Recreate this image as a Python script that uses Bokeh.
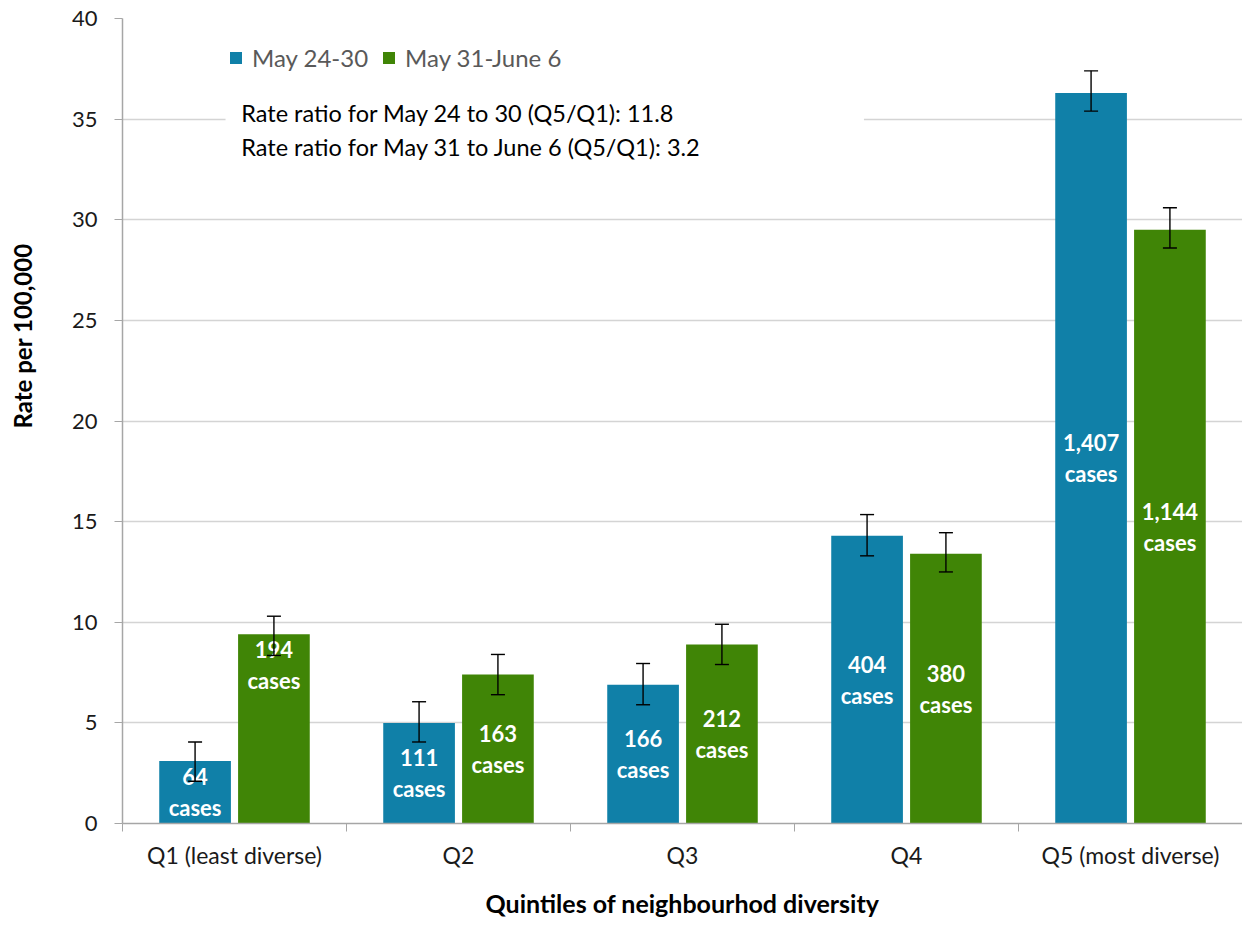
from bokeh.plotting import figure
from bokeh.models import (Range1d, FixedTicker, ColumnDataSource, Whisker, TeeHead,
                          Legend, LegendItem, BoxAnnotation, Label, Title, LinearAxis)
from bokeh.core.properties import value
from bokeh.embed import file_html
from bokeh.resources import INLINE

# ---- data ----
categories = ["Q1 (least diverse)", "Q2", "Q3", "Q4", "Q5 (most diverse)"]
series_names = ["May 24-30", "May 31-June 6"]
rate_may24 = [3.1, 5.0, 6.9, 14.3, 36.3]
rate_may31 = [9.4, 7.4, 8.9, 13.4, 29.5]
low_may24 = [2.1, 4.05, 5.9, 13.3, 35.4]
high_may24 = [4.05, 6.05, 7.95, 15.35, 37.4]
low_may31 = [8.35, 6.4, 7.9, 12.5, 28.6]
high_may31 = [10.3, 8.4, 9.9, 14.45, 30.6]
cases_may24 = ["64", "111", "166", "404", "1,407"]
cases_may31 = ["194", "163", "212", "380", "1,144"]
y_ticks = [0, 5, 10, 15, 20, 25, 30, 35, 40]
ratio_lines = ["Rate ratio for May 24 to 30 (Q5/Q1): 11.8",
               "Rate ratio for May 31 to June 6 (Q5/Q1): 3.2"]
y_title = "Rate per 100,000"
x_title = "Quintiles of neighbourhod diversity"

BLUE = "#1080A8"
GREEN = "#408506"
FONT = "Lato"
AXIS = "#A6A6A6"

n = len(categories)
centers = [i + 0.5 for i in range(n)]
off = 0.176
bw = 0.32

p = figure(width=1242, height=920, output_backend="svg", toolbar_location=None,
           x_range=Range1d(0, n), y_range=Range1d(0, 40),
           min_border_left=122, min_border_right=0, min_border_top=18, min_border_bottom=95)
p.outline_line_color = None

src_b = ColumnDataSource(dict(x=[c - off for c in centers], top=rate_may24,
                              lo=low_may24, hi=high_may24,
                              lab=[c + "\ncases" for c in cases_may24],
                              ly=[v / 2 for v in rate_may24]))
src_g = ColumnDataSource(dict(x=[c + off for c in centers], top=rate_may31,
                              lo=low_may31, hi=high_may31,
                              lab=[c + "\ncases" for c in cases_may31],
                              ly=[v / 2 for v in rate_may31]))

rb = p.vbar(x="x", top="top", width=bw, source=src_b, fill_color=BLUE, line_color=None)
rg = p.vbar(x="x", top="top", width=bw, source=src_g, fill_color=GREEN, line_color=None)

# value labels inside the bars (centred); the first green one sits at the top end
lab_kw = dict(text_color="white", text_font=value(FONT), text_font_style="bold",
              text_font_size="22px", text_align="center", text_line_height=1.15)
src_bl = ColumnDataSource(dict(x=src_b.data["x"], y=src_b.data["ly"], t=src_b.data["lab"]))
p.text(x="x", y="y", text="t", source=src_bl, text_baseline="middle", **lab_kw)
gx = src_g.data["x"]
src_gl = ColumnDataSource(dict(x=gx[1:], y=src_g.data["ly"][1:], t=src_g.data["lab"][1:]))
p.text(x="x", y="y", text="t", source=src_gl, text_baseline="middle", **lab_kw)
src_gl0 = ColumnDataSource(dict(x=gx[:1], y=rate_may31[:1], t=src_g.data["lab"][:1]))
p.text(x="x", y="y", text="t", source=src_gl0, text_baseline="top", y_offset=2, **lab_kw)

for s in (src_b, src_g):
    w = Whisker(base="x", lower="lo", upper="hi", source=s, line_color="black", line_width=1.4,
                upper_head=TeeHead(size=14, line_color="black", line_width=1.4),
                lower_head=TeeHead(size=14, line_color="black", line_width=1.4),
                level="overlay")
    p.add_layout(w)

# axes
p.yaxis.ticker = FixedTicker(ticks=y_ticks)
p.yaxis.axis_line_color = AXIS
p.yaxis.axis_line_width = 1.5
p.yaxis.major_tick_line_color = AXIS
p.yaxis.major_tick_out = 8
p.yaxis.major_tick_in = 0
p.yaxis.minor_tick_line_color = None
p.yaxis.major_label_text_font = FONT
p.yaxis.major_label_text_font_size = "22px"
p.yaxis.major_label_text_color = "#1a1a1a"
p.yaxis.major_label_standoff = 17

p.xaxis.ticker = FixedTicker(ticks=centers, minor_ticks=list(range(n + 1)))
p.xaxis.major_label_overrides = {c: lab for c, lab in zip(centers, categories)}
p.xaxis.axis_line_color = AXIS
p.xaxis.axis_line_width = 1.5
p.xaxis.major_tick_line_color = None
p.xaxis.major_tick_out = 0
p.xaxis.major_tick_in = 0
p.xaxis.minor_tick_line_color = AXIS
p.xaxis.minor_tick_out = 8
p.xaxis.minor_tick_in = 0
p.xaxis.major_label_text_font = FONT
p.xaxis.major_label_text_font_size = "23px"
p.xaxis.major_label_text_color = "#1a1a1a"
p.xaxis.major_label_standoff = 9
p.xaxis.axis_label = x_title
p.xaxis.axis_label_text_font = FONT
p.xaxis.axis_label_text_font_style = "bold"
p.xaxis.axis_label_text_font_size = "25px"
p.xaxis.axis_label_text_color = "black"
p.xaxis.axis_label_standoff = 16

p.xgrid.grid_line_color = None
p.ygrid.ticker = FixedTicker(ticks=y_ticks)
p.ygrid.grid_line_color = "#D4D4D4"
p.ygrid.grid_line_width = 1.5

# invisible spacer axis between the tick labels and the y title
# (one white tick on white, no label, no axis line)
spacer = LinearAxis(ticker=FixedTicker(ticks=[0]), axis_line_color=None,
                    major_tick_line_color="white", minor_tick_line_color=None,
                    major_tick_out=31, major_tick_in=0, minor_tick_out=0, minor_tick_in=0,
                    major_label_standoff=0, major_label_overrides={0: ""},
                    major_label_text_font_size="1px")
p.add_layout(spacer, "left")

# y axis title, placed like the original (upper part, left of the axis)
p.add_layout(Title(text=y_title, align="left", offset=395, vertical_align="middle",
                   standoff=0, text_font=FONT, text_font_style="bold",
                   text_font_size="24px", text_color="black"), "left")

# ratio text box
box = BoxAnnotation(left=0.46, right=3.31, bottom=32.9, top=36.8,
                    fill_color="white", fill_alpha=1.0, line_color=None)
p.add_layout(box)
for ly, t in zip([35.3, 33.62], ratio_lines):
    p.add_layout(Label(x=0.53, y=ly, text=t, text_font=FONT, text_font_size="23.5px",
                       text_color="black", text_baseline="middle"))

legend = Legend(items=[LegendItem(label=series_names[0], renderers=[rb]),
                       LegendItem(label=series_names[1], renderers=[rg])],
                orientation="horizontal", location=(106, 751),
                glyph_width=15, glyph_height=15, label_height=24,
                label_text_font=FONT, label_text_font_size="24px", label_text_color="#595959",
                label_standoff=9, spacing=13, padding=0, margin=0,
                border_line_color=None, background_fill_alpha=0)
p.add_layout(legend, "center")

open("out.html", "w").write(file_html(p, INLINE))
